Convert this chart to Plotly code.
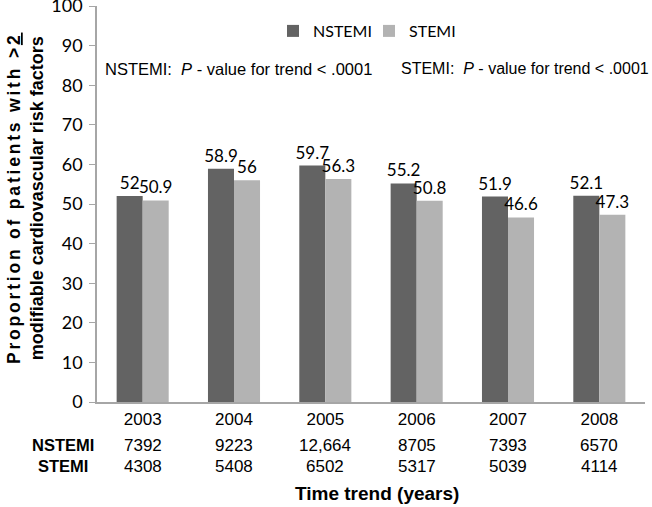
import plotly.graph_objects as go

years = ["2003", "2004", "2005", "2006", "2007", "2008"]
nstemi_pct = [52, 58.9, 59.7, 55.2, 51.9, 52.1]
stemi_pct = [50.9, 56, 56.3, 50.8, 46.6, 47.3]
nstemi_n = ["7392", "9223", "12,664", "8705", "7393", "6570"]
stemi_n = ["4308", "5408", "6502", "5317", "5039", "4114"]
y_ticks = [0, 10, 20, 30, 40, 50, 60, 70, 80, 90, 100]

DARK = "#636363"
LIGHT = "#b3b3b3"
AXIS = "#a6a6a6"
CAL = "Lato, 'Open Sans', sans-serif"
ARIAL = "'Liberation Sans', Arial, sans-serif"

fig = go.Figure()
fig.add_trace(go.Bar(
    x=years, y=nstemi_pct, name="NSTEMI", marker=dict(color=DARK, line=dict(width=0)),
    text=[f"{v:g}" for v in nstemi_pct], textposition="outside", constraintext="none",
    textfont=dict(family=CAL, size=17, color="black"), cliponaxis=False,
))
fig.add_trace(go.Bar(
    x=years, y=stemi_pct, name="STEMI", marker=dict(color=LIGHT, line=dict(width=0)),
    text=[f"{v:g}" for v in stemi_pct], textposition="outside", constraintext="none",
    textfont=dict(family=CAL, size=17, color="black"), cliponaxis=False,
))

L, R, T, B = 97, 7, 6, 105
W, H = 652, 507
pw = W - L - R
ph = H - T - B

def px_x(px):
    return (px - L) / pw

def px_y(py):
    return (H - B - py) / ph

ann = []
ann.append(dict(text="NSTEMI:  <i>P</i> - value for trend < .0001", xref="paper", yref="paper",
                x=px_x(103), y=px_y(69), xanchor="left", yanchor="middle", showarrow=False,
                font=dict(family=ARIAL, size=16.5, color="black")))
ann.append(dict(text="STEMI:  <i>P</i> - value for trend < .0001", xref="paper", yref="paper",
                x=px_x(399), y=px_y(69), xanchor="left", yanchor="middle", showarrow=False,
                font=dict(family=ARIAL, size=16, color="black")))
for i, (a, b) in enumerate(zip(nstemi_n, stemi_n)):
    ann.append(dict(text=a, xref="x", yref="paper", x=i, y=px_y(445), xanchor="center",
                    yanchor="middle", showarrow=False, font=dict(family=ARIAL, size=17, color="black")))
    ann.append(dict(text=b, xref="x", yref="paper", x=i, y=px_y(466), xanchor="center",
                    yanchor="middle", showarrow=False, font=dict(family=ARIAL, size=17, color="black")))
ann.append(dict(text="<b>NSTEMI</b>", xref="paper", yref="paper", x=px_x(62.5), y=px_y(445),
                xanchor="center", yanchor="middle", showarrow=False,
                font=dict(family=ARIAL, size=16.5, color="black")))
ann.append(dict(text="<b>STEMI</b>", xref="paper", yref="paper", x=px_x(62.5), y=px_y(466),
                xanchor="center", yanchor="middle", showarrow=False,
                font=dict(family=ARIAL, size=16.5, color="black")))
ann.append(dict(text="<b>Time trend (years)</b>", xref="paper", yref="paper", x=px_x(377), y=px_y(493),
                xanchor="center", yanchor="middle", showarrow=False,
                font=dict(family=ARIAL, size=19, color="black")))
ann.append(dict(text="<b><span style='letter-spacing:2.8px'>Proportion of patients with ><u>2</u></span></b>"
                     "<br><b><span style='font-size:18px'>modifiable cardiovascular risk factors</span></b>",
                xref="paper", yref="paper", x=px_x(25), y=px_y(199), xanchor="center", yanchor="middle",
                textangle=-90, showarrow=False, font=dict(family=ARIAL, size=17.5, color="black")))

fig.update_layout(
    width=W, height=H,
    margin=dict(l=L, r=R, t=T, b=B, pad=0, autoexpand=False),
    paper_bgcolor="white", plot_bgcolor="white",
    barmode="group", bargap=0.43, bargroupgap=0,
    showlegend=True,
    legend=dict(orientation="h", x=px_x(273), y=px_y(31), xanchor="left", yanchor="middle",
                font=dict(family=CAL, size=16, color="black"), itemwidth=30,
                entrywidth=51, entrywidthmode="pixels",
                bgcolor="rgba(0,0,0,0)", traceorder="normal"),
    annotations=ann,
    xaxis=dict(type="category", range=[-0.5, 5.5], showline=True, linecolor=AXIS, linewidth=1.5,
               ticks="", showgrid=False, automargin=False,
               tickfont=dict(family=ARIAL, size=17, color="black"), ticklabelstandoff=1),
    yaxis=dict(range=[0, 100.01], tickvals=y_ticks, showline=True, linecolor=AXIS, linewidth=1.5,
               ticks="outside", ticklen=6, tickcolor=AXIS, showgrid=False, zeroline=False,
               automargin=False, ticklabeloverflow="allow",
               tickfont=dict(family=CAL, size=18, color="black"), ticklabelstandoff=3),
)

fig.write_html("out.html", post_script="document.body.style.margin='0px';",
               config={"displayModeBar": False})
